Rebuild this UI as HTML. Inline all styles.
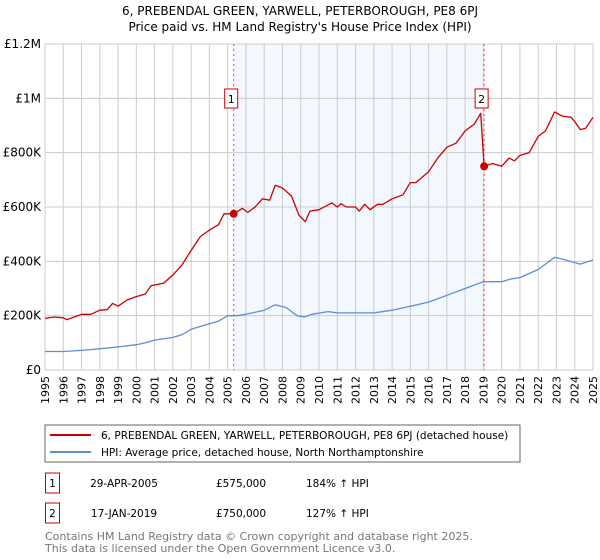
<!DOCTYPE html>
<html><head><meta charset="utf-8"><style>
body{margin:0;background:#fff;font-family:"Liberation Sans","DejaVu Sans",sans-serif;}
#wrap{position:relative;width:600px;height:560px;overflow:hidden}
svg text{font-family:"DejaVu Sans","Liberation Sans",sans-serif}
</style></head><body><div id="wrap">
<svg id="c" width="600" height="560"></svg>
</div>
<script>
const redYears=[1995,1995.5,1996,1996.2,1996.6,1997,1997.5,1998,1998.4,1998.7,1999,1999.5,2000,2000.5,2000.8,2001.5,2002,2002.5,2003,2003.5,2004,2004.5,2004.8,2005.33,2005.8,2006.1,2006.5,2006.9,2007.3,2007.6,2008,2008.5,2008.9,2009.25,2009.5,2010,2010.7,2011,2011.2,2011.5,2012,2012.2,2012.5,2012.8,2013.2,2013.5,2014,2014.6,2015,2015.3,2016,2016.5,2017,2017.5,2018,2018.5,2018.85,2019.04,2019.5,2020,2020.4,2020.7,2021,2021.5,2022,2022.4,2022.9,2023.3,2023.8,2024,2024.3,2024.6,2025];
const redVals=[190,195,192,185,195,205,205,220,222,245,235,258,270,280,310,320,350,387,440,491,515,535,575,575,595,580,600,630,625,680,670,640,570,546,585,590,615,600,612,600,600,585,610,590,610,610,630,645,690,690,730,780,820,835,880,905,945,750,760,750,780,770,790,800,860,880,950,935,930,915,885,890,930];
const blueYears=[1995,1996,1997,1998,1999,2000,2000.5,2001,2002,2002.5,2003,2004,2004.5,2005,2005.5,2006,2007,2007.6,2008.2,2008.8,2009.2,2009.6,2010.5,2011,2012,2013,2014,2015,2016,2017,2018,2019,2020,2020.5,2021,2022,2022.9,2023.5,2024.3,2025];
const blueVals=[68,68,72,78,85,93,100,110,120,130,150,170,180,200,200,205,220,240,230,200,195,205,215,210,210,210,220,235,250,275,300,325,325,335,340,370,415,405,390,405];
const yTicks=[0,200,400,600,800,1000,1200];
const yTickLabels=["£0","£200K","£400K","£600K","£800K","£1M","£1.2M"];
const xTicks=[1995,1996,1997,1998,1999,2000,2001,2002,2003,2004,2005,2006,2007,2008,2009,2010,2011,2012,2013,2014,2015,2016,2017,2018,2019,2020,2021,2022,2023,2024,2025];
const sales=[{t:2005.33,v:575,label:"1"},{t:2019.04,v:750,label:"2"}];

const L=45,R=593,T=44,B=370;
const x=t=>L+(t-1995)/30*(R-L);
const y=v=>B-v/1200*(B-T);
const svg=document.getElementById('c');
const NS='http://www.w3.org/2000/svg';
function mk(tag,attrs,parent){const e=document.createElementNS(NS,tag);for(const k in attrs)e.setAttribute(k,attrs[k]);(parent||svg).appendChild(e);return e;}

let t1=mk('text',{x:300,y:15,'text-anchor':'middle','font-size':12,fill:'#000'});t1.textContent="6, PREBENDAL GREEN, YARWELL, PETERBOROUGH, PE8 6PJ";


let t2=mk('text',{x:300,y:31,'text-anchor':'middle','font-size':12,fill:'#000'});t2.textContent="Price paid vs. HM Land Registry's House Price Index (HPI)";



let sh=mk('rect',{x:x(sales[0].t),y:T,width:x(sales[1].t)-x(sales[0].t),height:B-T,fill:'#eef3fd',opacity:0.7});



xTicks.forEach(t=>{
  let g=mk('line',{x1:x(t),x2:x(t),y1:T,y2:B,stroke:'#cccccc','stroke-width':1});
  
  
  let lb=mk('text',{x:0,y:0,'font-size':11,fill:'#000','text-anchor':'end',transform:`translate(${x(t)+4},${B+6}) rotate(-90)`});
  lb.textContent=t;
  
  
});
yTicks.forEach((v,i)=>{
  let g=mk('line',{x1:L,x2:R,y1:y(v),y2:y(v),stroke:'#cccccc','stroke-width':1});
  
  
  let lb=mk('text',{x:L-4,y:y(v)+4,'font-size':12,fill:'#000','text-anchor':'end'});
  lb.textContent=yTickLabels[i];
  
  
});
let fr=mk('rect',{x:L,y:T,width:R-L,height:B-T,fill:'none',stroke:'#cccccc'});



sales.forEach(s=>{
  let l=mk('line',{x1:x(s.t),x2:x(s.t),y1:T,y2:B,stroke:'#e05050','stroke-width':1,'stroke-dasharray':'2,3'});
  
  
});

function path(ys,vs,color,name){
  let d=ys.map((t,i)=>(i?'L':'M')+x(t).toFixed(1)+','+y(vs[i]).toFixed(1)).join('');
  let p=mk('path',{d:d,fill:'none',stroke:color,'stroke-width':1.3,'stroke-linejoin':'round'});
  
  
}
path(blueYears,blueVals,'#5b8fd6','hpi-line');
path(redYears,redVals,'#cc0000','price-paid-line');

sales.forEach(s=>{
  let c=mk('circle',{cx:x(s.t),cy:y(s.v),r:4,fill:'#cc0000'});
  
  
  let b=mk('rect',{x:x(s.t)-9,y:89,width:13,height:19,fill:'#fff',stroke:'#cc0000'});
  
  
  let tx=mk('text',{x:x(s.t)-2.5,y:103,'font-size':11,'text-anchor':'middle',fill:'#000'});
  tx.textContent=s.label;
  
  
});

let lg=mk('rect',{x:45,y:425,width:475,height:37,fill:'#fff',stroke:'#666'});


let l1=mk('line',{x1:50,x2:91,y1:435,y2:435,stroke:'#cc0000','stroke-width':2});


let lt1=mk('text',{x:101,y:439,'font-size':10.5,fill:'#000'});lt1.textContent="6, PREBENDAL GREEN, YARWELL, PETERBOROUGH, PE8 6PJ (detached house)";


let l2=mk('line',{x1:50,x2:91,y1:452,y2:452,stroke:'#5b8fd6','stroke-width':2});


let lt2=mk('text',{x:101,y:456,'font-size':10.5,fill:'#000'});lt2.textContent="HPI: Average price, detached house, North Northamptonshire";



const rows=[["1","29-APR-2005","£575,000","184% ↑ HPI",483],["2","17-JAN-2019","£750,000","127% ↑ HPI",513]];
rows.forEach(r=>{
  let b=mk('rect',{x:45.5,y:r[4]-10,width:14,height:20,fill:'#fff',stroke:'#cc0000'});
  
  
  [[r[0],52.5,'middle'],[r[1],124,'middle'],[r[2],241,'middle'],[r[3],306,'start']].forEach(c=>{
    let tx=mk('text',{x:c[1],y:r[4]+4,'font-size':10.5,fill:'#000','text-anchor':c[2]});
    tx.textContent=c[0];
    
    
  });
});
let f1=mk('text',{x:45,y:540,'font-size':11,fill:'#777'});f1.textContent="Contains HM Land Registry data © Crown copyright and database right 2025.";


let f2=mk('text',{x:45,y:552,'font-size':11,fill:'#777'});f2.textContent="This data is licensed under the Open Government Licence v3.0.";


</script></body></html>
